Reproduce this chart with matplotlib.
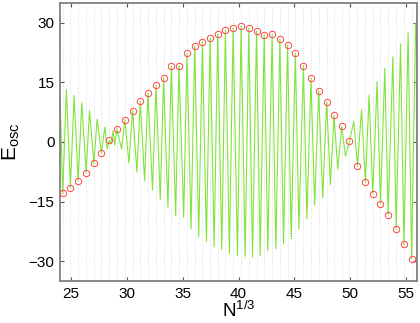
import matplotlib
matplotlib.use("Agg")
import matplotlib.pyplot as plt

plt.rcParams['font.family'] = ['Liberation Sans', 'DejaVu Sans']
plt.rcParams['mathtext.fontset'] = 'custom'
plt.rcParams['mathtext.rm'] = 'Liberation Sans'
plt.rcParams['mathtext.it'] = 'Liberation Sans'

# Red circles (marked points) and grid positions
circle_x = [24.24, 24.93, 25.62, 26.34, 27.03, 27.71, 28.40, 29.09, 29.81, 30.50,
            31.19, 31.88, 32.60, 33.28, 33.97, 34.66, 35.38, 36.07, 36.76, 37.45,
            38.13, 38.82, 39.51, 40.23, 40.92, 41.61, 42.30, 43.01, 43.70, 44.39,
            45.09, 45.81, 46.49, 47.18, 47.90, 48.56, 49.25, 49.94, 50.66, 51.37,
            52.03, 52.72, 53.41, 54.13, 54.82, 55.51]
circle_y = [-12.9, -11.5, -9.75, -7.7, -5.4, -2.8, 0.4, 3.3, 5.6, 7.9,
            10.2, 12.3, 14.3, 16.1, 19.0, 19.2, 22.3, 24.2, 25.2, 26.1,
            27.2, 28.1, 28.7, 29.2, 28.7, 27.9, 27.0, 27.1, 25.8, 24.4,
            22.4, 19.2, 16.0, 12.9, 10.0, 6.7, 3.9, 0.15, -6.1, -10.1,
            -13.0, -15.5, -18.3, -21.9, -25.8, -29.4]

# Green oscillating curve (turning points)
curve_x = [24.00, 24.24, 24.57, 24.93, 25.26, 25.62, 25.95, 26.34, 26.64, 27.03,
           27.32, 27.71, 28.01, 28.22, 28.40, 28.55, 28.75, 28.90, 29.09, 29.51,
           29.81, 30.17, 30.50, 30.89, 31.19, 31.58, 31.88, 32.29, 32.60, 32.98,
           33.28, 33.67, 33.97, 34.36, 34.66, 35.08, 35.38, 35.74, 36.07, 36.43,
           36.76, 37.12, 37.45, 37.81, 38.13, 38.49, 38.82, 39.18, 39.51, 39.90,
           40.23, 40.59, 40.92, 41.25, 41.61, 41.94, 42.30, 42.62, 43.01, 43.34,
           43.70, 44.03, 44.39, 44.72, 45.09, 45.41, 45.81, 46.13, 46.49, 46.82,
           47.18, 47.54, 47.90, 48.23, 48.56, 48.89, 49.25, 49.58, 49.94, 50.33,
           50.66, 51.02, 51.37, 51.70, 52.03, 52.42, 52.72, 53.11, 53.41, 53.83,
           54.13, 54.52, 54.82, 55.20, 55.51, 55.87, 56.00]
curve_y = [11.8, -12.9, 13.2, -11.5, 11.7, -9.75, 9.9, -7.7, 7.9, -5.4,
           5.7, -2.8, 3.7, -1.8, 0.4, -0.5, 2.8, -0.8, 3.3, -1.75,
           5.6, -5.3, 7.9, -7.6, 10.2, -9.8, 12.3, -12.1, 14.3, -14.4,
           16.1, -16.4, 19.0, -18.5, 19.2, -19.0, 22.3, -21.9, 24.2, -23.9,
           25.2, -25.1, 26.1, -26.4, 27.2, -27.1, 28.1, -28.0, 28.7, -28.6,
           29.2, -28.8, 28.7, -29.0, 27.9, -28.6, 27.0, -27.3, 27.1, -26.9,
           25.8, -25.7, 24.4, -24.3, 22.4, -21.9, 19.2, -19.4, 16.0, -15.9,
           12.9, -14.0, 10.0, -10.7, 6.7, -6.9, 3.9, -3.6, 0.15, 5.2,
           -6.1, 8.1, -10.1, 11.8, -13.0, 15.2, -15.5, 18.5, -18.3, 21.4,
           -21.9, 24.7, -25.8, 27.5, -29.4, 29.9, 22.0]

x_ticks = [25, 30, 35, 40, 45, 50, 55]
y_ticks = [-30, -15, 0, 15, 30]

fig = plt.figure(figsize=(4.2, 3.23), dpi=100)
ax = fig.add_axes([0.143, 0.130, 0.850, 0.861])

for gx in circle_x:
    ax.axvline(gx, color='#d0d0d0', lw=0.6, ls=(0, (1, 2)), zorder=0)

ax.plot(curve_x, curve_y, color='#80e43a', lw=0.8, zorder=2)
ax.plot(circle_x, circle_y, ls='none', marker='o', ms=4.6, mfc='none',
        mec='#ff4545', mew=0.7, zorder=3)

ax.set_xlim(24, 56)
ax.set_ylim(-35, 35)
ax.set_xticks(x_ticks)
ax.set_yticks(y_ticks)
ax.set_yticklabels(['\u221230', '\u221215', '0', '15', '30'])
ax.tick_params(direction='in', length=3, width=0.8, color='#555555',
               labelsize=11, top=True, right=True, pad=4)
for s in ax.spines.values():
    s.set_color('#808080')
    s.set_linewidth(1.3)

ax.set_xlabel(r'N$^{\rm 1/3}$', fontsize=13.5, labelpad=0)
ax.set_ylabel(r'E$_{\rm osc}$', fontsize=15, labelpad=5)

fig.savefig('out.png', dpi=100)
